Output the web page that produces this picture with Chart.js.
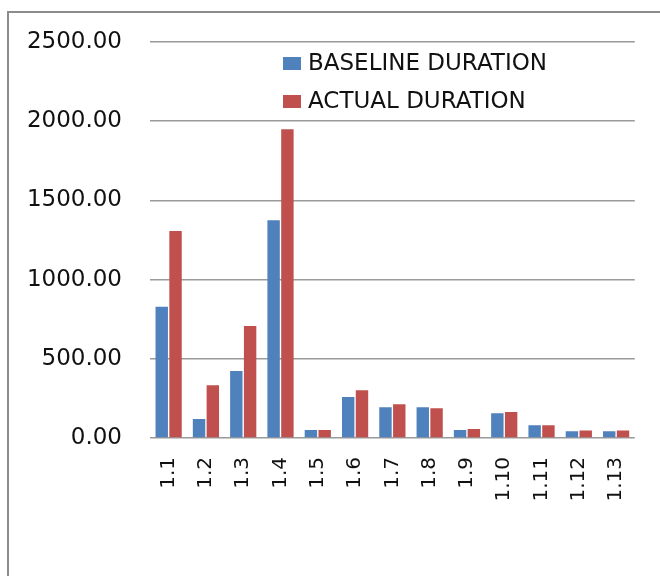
<!DOCTYPE html>
<html>
<head>
<meta charset="utf-8">
<title>Baseline vs Actual Duration</title>
<script src="https://cdn.jsdelivr.net/npm/chart.js@4/dist/chart.umd.min.js"></script>
<style>
  html, body { margin: 0; padding: 0; background: #fff; }
  #wrap { width: 660px; height: 576px; }
</style>
</head>
<body>
<div id="wrap"><canvas id="c" width="660" height="576"></canvas></div>
<script>
// Activity numbers along the category axis
const categories = ['1.1', '1.2', '1.3', '1.4', '1.5', '1.6', '1.7', '1.8', '1.9', '1.10', '1.11', '1.12', '1.13'];

// Durations per activity
const baselineDuration = [829, 120, 423, 1374, 50, 259, 194, 194, 50, 156, 80, 42, 42];
const actualDuration   = [1307, 333, 707, 1949, 50, 301, 213, 188, 57, 164, 80, 48, 48];

// Value axis ticks
const yTicks = [0, 500, 1000, 1500, 2000, 2500];

const seriesNames = ['BASELINE DURATION', 'ACTUAL DURATION'];
const seriesColors = ['#4F81BD', '#C0504D'];

const FONT = '"DejaVu Sans", Verdana, sans-serif';

// Outer frame around the chart (runs off the right and bottom of the page)
const framePlugin = {
  id: 'frame',
  beforeDraw(chart) {
    const ctx = chart.ctx;
    ctx.save();
    ctx.fillStyle = '#fff';
    ctx.fillRect(0, 0, chart.width, chart.height);
    ctx.strokeStyle = '#8c8c8c';
    ctx.lineWidth = 2;
    ctx.strokeRect(8, 12, 900, 900);
    ctx.restore();
  }
};

// Stacked legend placed inside the plot, near its top
const stackedLegend = {
  id: 'stackedLegend',
  afterDraw(chart) {
    const ctx = chart.ctx;
    const x0 = chart.chartArea.left + 133;
    ctx.save();
    ctx.font = '23px ' + FONT;
    ctx.textBaseline = 'middle';
    ctx.textAlign = 'left';
    chart.data.datasets.forEach((ds, i) => {
      const y = chart.chartArea.top + 21.5 + i * 38;
      ctx.fillStyle = ds.backgroundColor;
      ctx.fillRect(x0, y - 6.5, 18, 13);
      ctx.fillStyle = '#111';
      ctx.fillText(ds.label, x0 + 25, y + 1);
    });
    ctx.restore();
  }
};

new Chart(document.getElementById('c'), {
  type: 'bar',
  data: {
    labels: categories,
    datasets: [
      { label: seriesNames[0], data: baselineDuration, backgroundColor: seriesColors[0] },
      { label: seriesNames[1], data: actualDuration, backgroundColor: seriesColors[1] }
    ]
  },
  options: {
    responsive: false,
    animation: false,
    devicePixelRatio: 1,
    categoryPercentage: 0.74,
    barPercentage: 0.9,
    layout: { padding: { top: 42, right: 23, left: 0, bottom: 0 } },
    plugins: {
      legend: { display: false },
      tooltip: { enabled: false }
    },
    scales: {
      x: {
        grid: { display: false, drawTicks: false },
        border: { display: false },
        ticks: {
          minRotation: 90,
          maxRotation: 90,
          padding: 19,
          color: '#111',
          font: { family: FONT, size: 20 }
        },
        afterFit(scale) { scale.height = 138; }
      },
      y: {
        min: 0,
        max: 2500,
        afterBuildTicks(scale) { scale.ticks = yTicks.map(v => ({ value: v })); },
        grid: { color: '#9a9a9a', lineWidth: 1.5, drawTicks: false },
        border: { display: false },
        ticks: {
          padding: 28,
          color: '#111',
          font: { family: FONT, size: 23 },
          callback: v => Number(v).toFixed(2)
        },
        afterFit(scale) { scale.width = 150; }
      }
    }
  },
  plugins: [framePlugin, stackedLegend]
});
</script>
</body>
</html>
